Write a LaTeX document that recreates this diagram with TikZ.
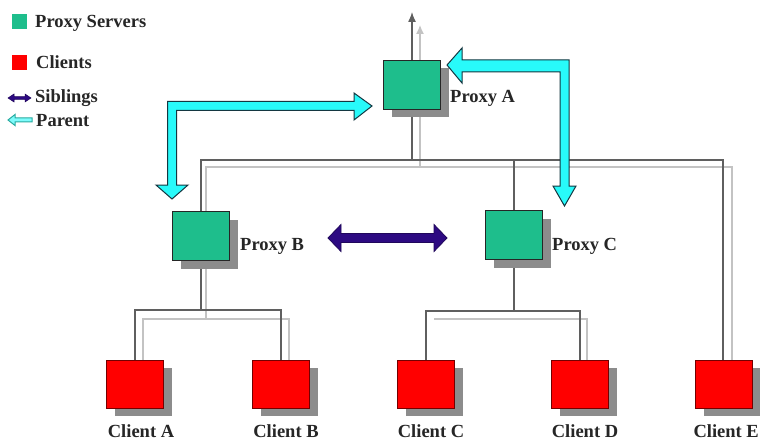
\documentclass[tikz,border=0pt]{standalone}
\usepackage{fontspec}
\setmainfont{Liberation Serif}
\usetikzlibrary{shadows,arrows.meta}
\pgfdeclarelayer{paper}
\pgfdeclarelayer{netlayer}
\pgfsetlayers{paper,netlayer,main}

\definecolor{proxygreen}{RGB}{30,190,140}
\definecolor{clientred}{RGB}{255,0,0}
\definecolor{shadowgray}{RGB}{140,140,140}
\definecolor{wiredark}{RGB}{95,95,95}
\definecolor{wirelight}{RGB}{195,195,195}
\definecolor{parentcyan}{RGB}{40,250,250}
\definecolor{parentedge}{RGB}{20,55,65}
\definecolor{siblingblue}{RGB}{45,10,130}
\definecolor{legendteal}{RGB}{40,170,160}

\tikzset{
  boxshadow/.style={drop shadow={shadow xshift=8pt, shadow yshift=-8pt,
      fill=shadowgray, opacity=1}},
  proxybox/.style={draw=black!85, fill=proxygreen, line width=0.9pt,
      minimum width=57pt, minimum height=49pt, inner sep=0pt, boxshadow},
  clientbox/.style={draw=red!45!black, fill=clientred, line width=0.9pt,
      minimum width=57pt, minimum height=48pt, inner sep=0pt, boxshadow},
  legsq/.style={inner sep=0pt, minimum size=15pt},
  lbl/.style={font=\fontsize{18.5}{21}\selectfont\bfseries, inner sep=0pt, text=black!85},
  wire/.style={draw=wiredark, line width=1.3pt},
  wireshade/.style={draw=wirelight, line width=1.3pt},
  parentarrow/.style={fill=parentcyan, draw=parentedge, line width=1pt, line join=miter},
  siblingarrow/.style={fill=siblingblue, draw=siblingblue!70!black, line width=0.8pt},
}

\begin{document}
\begin{tikzpicture}[x=1pt,y=-1pt]
\begin{pgfonlayer}{paper}
  \fill[white] (0,0) rectangle (760,441);
\end{pgfonlayer}
\useasboundingbox (0,0) rectangle (760,441);

% ---- proxies and clients
\node[proxybox] (pA) at (412,85) {};
\node[proxybox] (pB) at (201,236) {};
\node[proxybox] (pC) at (514,235) {};
\node[clientbox] (cA) at (135,384) {};
\node[clientbox] (cB) at (281,384) {};
\node[clientbox] (cC) at (426,384) {};
\node[clientbox] (cD) at (580,384) {};
\node[clientbox] (cE) at (724,384) {};

% ---- labels
\node[lbl, anchor=base west] (tA) at (450,103) {Proxy A};
\node[lbl, anchor=base west] (tB) at (240,250) {Proxy B};
\node[lbl, anchor=base west] (tC) at (552,250) {Proxy C};
\node[lbl, anchor=base] (tcA) at (141,437) {Client A};
\node[lbl, anchor=base] (tcB) at (286,437) {Client B};
\node[lbl, anchor=base] (tcC) at (431,437) {Client C};
\node[lbl, anchor=base] (tcD) at (585,437) {Client D};
\node[lbl, anchor=base east] (tcE) at (759,437) {Client E};

% ---- wiring
\coordinate (upA)  at (412,12);
\coordinate (busA) at (412,160);
\coordinate (busL) at (201,160);
\coordinate (busC) at (514,160);
\coordinate (busR) at (723,160);
\coordinate (subB) at (201,310);
\coordinate (subC) at (514,311);

\begin{pgfonlayer}{netlayer}
  % light shade lines
  \draw[wireshade, -{Latex[length=9pt,width=8pt]}] (420,168) -- (420,25);
  \draw[wireshade] (206,212) -- (206,167) -- (732,167) -- (732,360);
  \draw[wireshade] (206,268) -- (206,318);
  \draw[wireshade] (143,360) -- (143,319) -- (289,319) -- (289,360);
  \draw[wireshade] (434,319) -- (587,319) -- (587,360);
  % main lines
  \draw[wire, -{Latex[length=10pt,width=8pt]}] (busA) -- (upA);
  \draw[wire] (pB) -- (busL) -- (busR) -- (busR |- cE.north);
  \draw[wire] (busC) -- (pC);
  \draw[wire] (pB) -- (subB);
  \draw[wire] (cA.north) -- (cA.north |- subB) -- (cB.north |- subB) -- (cB.north);
  \draw[wire] (pC) -- (subC);
  \draw[wire] (cC.north) -- (cC.north |- subC) -- (cD.north |- subC) -- (cD.north);
\end{pgfonlayer}

% ---- parent links (A to B, A to C)
\draw[parentarrow] (167.5,101.5) -- (354,101.5) -- (354,93) -- (372,106)
  -- (354,120) -- (354,110.5) -- (176.5,110.5) -- (176.5,185) -- (188,185)
  -- (172,199) -- (156,185) -- (167.5,185) -- cycle;
\draw[parentarrow] (447,65) -- (462,48) -- (462,60) -- (569,60) -- (569,186)
  -- (576,186) -- (564.5,206) -- (553,186) -- (560,186) -- (560,72)
  -- (462,72) -- (462,83) -- cycle;

% ---- sibling link (B to C)
\draw[siblingarrow] (328,238) -- (341,224.5) -- (341,233.5) -- (434,233.5)
  -- (434,224.5) -- (447,238) -- (434,251.5) -- (434,242.5) -- (341,242.5)
  -- (341,251.5) -- cycle;

% ---- legend
\node[legsq, fill=proxygreen] (lgP) at (19.5,21.5) {};
\node[legsq, fill=clientred] (lgC) at (19,63) {};
\node[lbl, anchor=base west] (lgPt) at (35,28) {Proxy Servers};
\node[lbl, anchor=base west] (lgCt) at (36,69) {Clients};
\node[lbl, anchor=base west] (lgSt) at (35,103) {Siblings};
\node[lbl, anchor=base west] (lgRt) at (36,127) {Parent};
\draw[siblingarrow, line width=0.5pt] (8,98) -- (14,94) -- (14,96.6) -- (25,96.6)
  -- (25,94) -- (31,98) -- (25,102) -- (25,99.4) -- (14,99.4) -- (14,102) -- cycle;
\draw[fill=parentcyan!60!white, draw=legendteal, line width=1pt] (8,120) -- (15,114.5)
  -- (15,118) -- (32,118) -- (32,122) -- (15,122) -- (15,125.5) -- cycle;
\end{tikzpicture}
\end{document}
